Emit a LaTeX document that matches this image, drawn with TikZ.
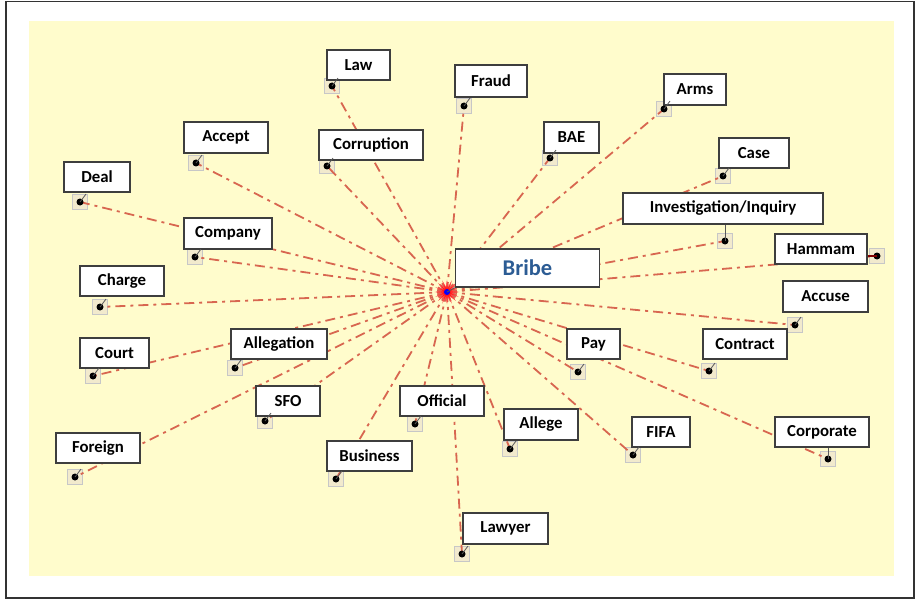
\documentclass[tikz,border=0pt]{standalone}
\usepackage{fontspec}
\setmainfont{Carlito}
\usetikzlibrary{shapes.geometric,calc}

\definecolor{paper}{RGB}{255,252,204}
\definecolor{spokecol}{RGB}{216,102,80}
\definecolor{boxline}{RGB}{62,62,62}
\definecolor{bribeblue}{RGB}{44,92,148}
\definecolor{pinfill}{RGB}{242,234,205}

\pgfdeclarelayer{back}
\pgfdeclarelayer{spokes}
\pgfsetlayers{back,spokes,main}

\tikzset{
  termbox/.style={draw=boxline, line width=1.4pt, fill=white, inner sep=0pt,
    font=\fontsize{16.8}{19}\selectfont\bfseries, text=black},
  pinbox/.style={draw=black!22, line width=0.9pt, fill=pinfill,
    minimum size=15pt, inner sep=0pt},
  pindot/.style={circle, fill=black, minimum size=7pt, inner sep=0pt},
  spoke/.style={draw=spokecol, line width=1.8pt,
    dash pattern=on 10pt off 5pt on 3pt off 5pt},
  tick/.style={draw=black!65, line width=0.8pt},
}

% \term{name}{x1}{y1}{x2}{y2}{label}{pin x}{pin y}
\newcommand\term[8]{%
  \node[termbox, minimum width={(#4-#2)*1pt}, minimum height={(#5-#3)*1pt}]
    (#1) at ({(#2+#4)/2},{(#3+#5)/2}) {#6};
  \begin{pgfonlayer}{back}
    \node[pinbox] (#1-box) at (#7,#8) {};
  \end{pgfonlayer}
  \node[pindot] (#1-pin) at (#7,#8) {};
}

\begin{document}
\begin{tikzpicture}[x=1pt, y=-1pt]
  \useasboundingbox (0,0) rectangle (916,599);
  \begin{pgfonlayer}{back}
    \fill[white] (0,0) rectangle (916,599);
    \fill[paper] (29,21) rectangle (894,576);
    \draw[black!80, line width=1.8pt] (6,1.5) rectangle (914,598);
  \end{pgfonlayer}

  % hub
  \node[star, star points=16, star point ratio=2.4, fill=red!90, draw=red!70,
        line width=0.4pt, minimum size=22pt, inner sep=0pt] (hub) at (447,292) {};
  \node[circle, fill=blue, minimum size=6pt, inner sep=0pt] (hubdot) at (447,292) {};

  \node[termbox, font=\fontsize{22.5}{26}\selectfont\bfseries, text=bribeblue,
        minimum width=144pt, minimum height=38pt] (bribe) at (527.5,268) {Bribe};

  \term{law}{327}{50}{390}{80}{Law}{332}{86}
  \term{fraud}{455}{65}{527}{97}{Fraud}{464}{106}
  \term{arms}{664}{74}{726}{105}{Arms}{664}{109}
  \term{accept}{184}{122}{268}{153}{Accept}{196}{163}
  \term{corruption}{319}{130}{423}{160}{Corruption}{327}{166}
  \term{bae}{544}{122}{599}{153}{BAE}{550}{158}
  \term{case}{719}{138}{789}{168}{Case}{723}{176}
  \term{deal}{64}{162}{130}{192}{Deal}{80}{202}
  \term{invest}{623}{193}{823}{224}{Investigation/Inquiry}{725}{241}
  \term{company}{184}{218}{272}{249}{Company}{195}{257}
  \term{hammam}{775}{234}{867}{264}{Hammam}{877}{256}
  \term{charge}{80}{266}{164}{296}{Charge}{100}{307}
  \term{accuse}{783}{281}{868}{312}{Accuse}{795}{325}
  \term{allegation}{231}{329}{327}{359}{Allegation}{235}{368}
  \term{court}{80}{338}{149}{368}{Court}{93}{376}
  \term{pay}{567}{329}{620}{359}{Pay}{578}{372}
  \term{contract}{703}{329}{787}{359}{Contract}{709}{371}
  \term{sfo}{256}{386}{320}{416}{SFO}{265}{421}
  \term{official}{400}{386}{484}{416}{Official}{415}{424}
  \term{allege}{504}{409}{578}{440}{Allege}{510}{449}
  \term{fifa}{632}{417}{690}{447}{FIFA}{633}{455}
  \term{corporate}{775}{417}{869}{447}{Corporate}{828}{459}
  \term{foreign}{56}{433}{140}{463}{Foreign}{75}{477}
  \term{business}{327}{441}{412}{471}{Business}{336}{479}
  \term{lawyer}{463}{513}{548}{544}{Lawyer}{462}{554}

  % spokes from the hub to every pin
  \begin{pgfonlayer}{spokes}
    \foreach \n in {law,fraud,arms,accept,corruption,bae,case,deal,invest,
                    company,hammam,charge,accuse,allegation,court,pay,contract,
                    sfo,official,allege,fifa,corporate,foreign,business,lawyer}
      \draw[spoke] (hub.center) -- (\n-pin.center);
  \end{pgfonlayer}

  % short leader ticks from each pin
  \foreach \n in {law,fraud,arms,accept,corruption,bae,case,deal,
                  company,charge,accuse,allegation,court,pay,contract,
                  sfo,official,allege,fifa,foreign,business,lawyer}
    \draw[tick] (\n-pin.center) -- ([xshift=6pt]\n-box.north);
  \draw[tick] (invest-pin.center) -- (invest-pin.center |- invest.south);
  \draw[tick] (corporate-pin.center) -- (corporate-pin.center |- corporate.south);
  \draw[draw=red!50!black, line width=1.2pt] (hammam-pin.center) -- (hammam-pin.center -| hammam.east);
  \draw[tick] (hubdot.center) -- (bribe.south west);
\end{tikzpicture}
\end{document}
